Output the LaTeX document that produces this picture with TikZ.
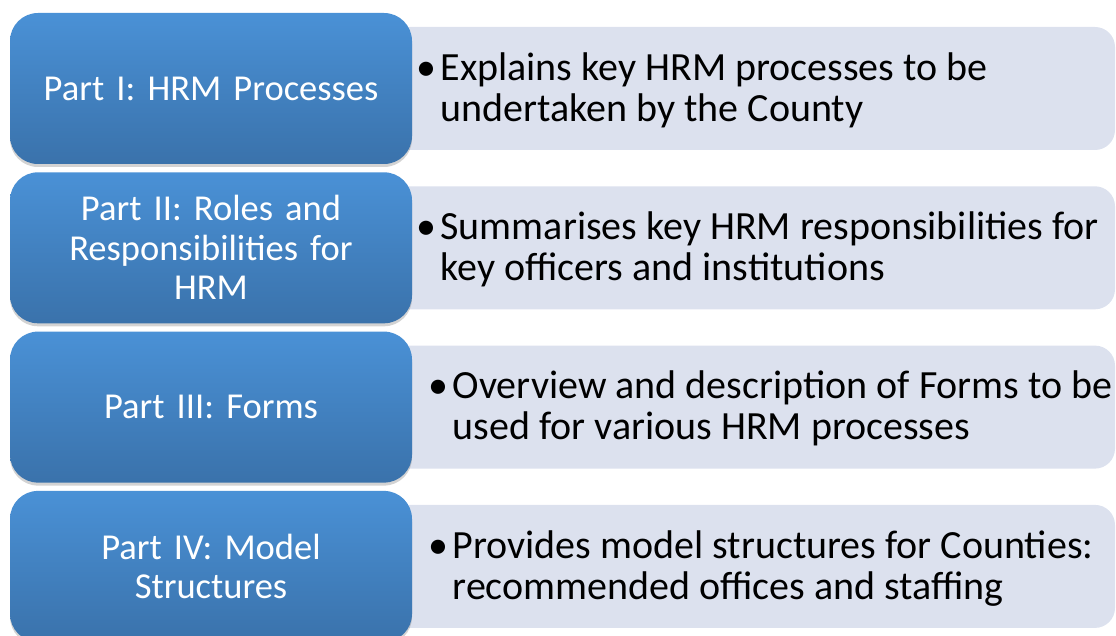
\documentclass[tikz,border=0pt]{standalone}
\usepackage{fontspec}
\setmainfont{Carlito}
\usepackage{tikz}
\usetikzlibrary{shadows}

\definecolor{parttop}{HTML}{4A91D6}
\definecolor{partbot}{HTML}{3A72AB}
\definecolor{descfill}{HTML}{DCE1EE}

% bullet line with a hanging second line
\newcommand{\bulletpair}[2]{%
    \begin{tabular}{@{}l@{\hspace{4.5pt}}l@{}}\textbullet & #1\\ & #2\end{tabular}}

\begin{document}
\begin{tikzpicture}[
        x=1pt, y=-1pt,
        part/.style={
            rectangle,
            rounded corners=28pt,
            top color=parttop,
            bottom color=partbot,
            draw=none,
            minimum width=402pt,
            minimum height=151pt,
            text width=390pt,
            align=center,
            text=white,
            font=\fontsize{36.5}{39.5}\selectfont,
            drop shadow={shadow xshift=0pt, shadow yshift=-3pt, opacity=0.35}
        },
        desc/.style={
            rectangle,
            rounded corners=20pt,
            fill=descfill,
            draw=none,
            minimum width=725pt,
            minimum height=123pt
        },
        desctext/.style={
            anchor=west,
            inner sep=0pt,
            align=left,
            font=\fontsize{40}{41}\selectfont
        }
    ]

        \useasboundingbox (0,0) rectangle (1116,636);

        % light boxes on the right, drawn first so the blue ones overlap them
        \node[desc] (d1) at (752.5,88.5) {};
        \node[desc] (d2) at (752.5,247.8) {};
        \node[desc] (d3) at (752.5,407.1) {};
        \node[desc] (d4) at (752.5,566.4) {};

        \node[desctext] (t1) at (416,92.5) {\bulletpair{Explains key HRM processes to be}{undertaken by the County}};
        \node[desctext] (t2) at (416,251.8) {\bulletpair{Summarises key HRM responsibilities for}{key officers and institutions}};
        \node[desctext] (t3) at (428,411.1) {\bulletpair{Overview and description of Forms to be}{used for various HRM processes}};
        \node[desctext] (t4) at (428,570.4) {\bulletpair{Provides model structures for Counties:}{recommended offices and staffing}};

        % blue part boxes
        \node[part] (p1) at (211,88.5) {Part I: HRM Processes};
        \node[part] (p2) at (211,247.8) {Part II: Roles and\\Responsibilities for\\HRM};
        \node[part] (p3) at (211,407.1) {Part III: Forms};
        \node[part] (p4) at (211,566.4) {Part IV: Model\\Structures};

    \end{tikzpicture}
\end{document}
